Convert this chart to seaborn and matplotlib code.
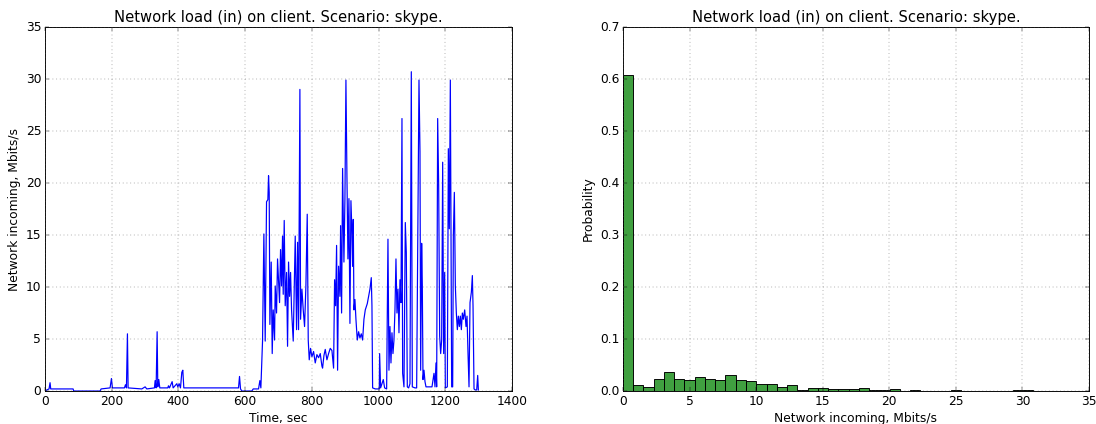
import numpy as np
import pandas as pd
import seaborn as sns
import matplotlib
matplotlib.use("Agg")
import matplotlib.pyplot as plt

# time series (sec, Mbits/s)
time_sec = [0, 5, 12, 15, 17, 40, 84, 86, 165, 168, 195, 199, 202, 238, 241, 244, 247, 249,
            290, 300, 305, 328, 330, 333, 336, 338, 341, 344, 368, 370, 373, 381, 384, 395,
            398, 402, 406, 410, 413, 416, 420, 500, 580, 583, 586, 590, 620, 624, 640, 644,
            647, 652, 656, 660, 664, 668, 670, 672, 674, 678, 681, 684, 688, 690, 694, 697,
            700, 703, 706, 709, 712, 714, 717, 720, 724, 727, 730, 733, 736, 739, 744, 747,
            750, 754, 757, 760, 764, 766, 770, 774, 778, 782, 786, 789, 792, 796, 800, 805,
            810, 815, 820, 825, 830, 832, 836, 840, 845, 850, 855, 860, 865, 868, 871, 874,
            877, 880, 884, 886, 889, 892, 896, 899, 902, 905, 908, 911, 914, 917, 920, 922,
            924, 926, 929, 932, 936, 940, 944, 948, 952, 956, 960, 966, 970, 974, 978, 980,
            982, 990, 1002, 1003, 1006, 1014, 1018, 1024, 1028, 1031, 1034, 1037, 1040, 1043,
            1046, 1049, 1052, 1055, 1058, 1061, 1064, 1067, 1070, 1072, 1076, 1080, 1083, 1086,
            1090, 1094, 1098, 1101, 1109, 1114, 1121, 1124, 1126, 1129, 1131, 1133, 1136, 1139,
            1142, 1150, 1160, 1166, 1169, 1172, 1174, 1177, 1180, 1183, 1186, 1189, 1192, 1195,
            1198, 1200, 1206, 1209, 1212, 1215, 1217, 1219, 1222, 1224, 1227, 1230, 1233, 1236,
            1239, 1242, 1245, 1248, 1251, 1254, 1258, 1262, 1265, 1268, 1271, 1274, 1278, 1281,
            1283, 1286, 1290, 1294, 1297, 1299]
load_in = [0.0, 0.1, 0.2, 0.8, 0.2, 0.2, 0.2, 0.0, 0.0, 0.2, 0.3, 1.2, 0.3, 0.3, 0.6, 0.3, 5.5, 0.3,
           0.2, 0.4, 0.2, 0.3, 1.0, 0.3, 5.7, 0.4, 1.1, 0.3, 0.3, 0.5, 0.3, 0.9, 0.3, 0.7,
           0.4, 0.7, 0.3, 1.8, 2.0, 0.3, 0.3, 0.3, 0.3, 1.4, 0.2, 0.0, 0.0, 0.2, 0.2, 1.0,
           0.3, 4.8, 15.1, 4.8, 18.2, 18.4, 20.7, 19.1, 6.4, 12.4, 3.6, 7.8, 4.9, 10.1, 7.5, 12.7,
           10.7, 8.5, 13.6, 10.1, 14.9, 9.3, 16.4, 8.2, 11.4, 4.3, 12.4, 9.1, 11.4, 7.8, 4.8, 10.1,
           14.9, 5.9, 14.3, 5.9, 29.0, 6.9, 9.8, 7.8, 6.2, 10.1, 17.0, 4.9, 3.0, 4.1, 3.3, 3.8,
           2.7, 3.5, 3.2, 3.6, 2.4, 2.2, 3.4, 4.0, 3.0, 3.6, 4.1, 3.9, 2.2, 10.7, 8.2, 14.0,
           2.0, 12.0, 9.1, 15.9, 7.5, 21.4, 12.4, 18.5, 29.9, 20.7, 12.7, 18.5, 6.5, 18.3, 15.3, 12.0,
           16.5, 7.8, 8.8, 6.9, 4.9, 5.7, 5.1, 5.5, 4.9, 6.9, 7.8, 8.4, 9.1, 9.8, 10.9, 8.2,
           0.3, 0.2, 0.2, 3.6, 0.3, 1.1, 0.3, 0.2, 14.6, 2.0, 6.2, 2.7, 5.6, 3.6,
           4.9, 7.8, 12.7, 7.5, 9.8, 5.6, 10.7, 8.5, 26.2, 1.7, 0.4, 16.2, 13.3, 0.4,
           0.3, 0.7, 30.7, 0.4, 0.3, 0.3, 29.9, 23.0, 2.0, 14.2, 10.1, 1.1, 2.0, 0.9,
           0.4, 0.4, 0.4, 1.7, 0.4, 2.7, 0.4, 26.2, 19.8, 5.3, 3.6, 4.9, 22.0, 3.6,
           11.4, 0.3, 0.4, 23.3, 15.6, 29.9, 15.6, 0.4, 0.4, 14.9, 19.1, 10.1, 7.5, 5.9,
           7.2, 6.2, 7.2, 5.9, 7.5, 6.9, 7.8, 6.2, 7.2, 3.6, 0.4, 8.5, 9.5, 11.1,
           8.2, 0.2, 0.1, 0.1, 1.5, 0.1]

# histogram probabilities (40 bins between 0 and max load)
hist_max = 30.8
hist_prob = [0.608, 0.0115, 0.008, 0.023, 0.037, 0.023, 0.021, 0.027, 0.023, 0.021,
             0.030, 0.021, 0.020, 0.013, 0.013, 0.007, 0.011, 0.002, 0.006, 0.006,
             0.0045, 0.003, 0.003, 0.006, 0.002, 0.0015, 0.003, 0.0007, 0.0013, 0.0005,
             0.0007, 0.0, 0.001, 0.0006, 0.0, 0.0005, 0.0005, 0.0006, 0.0013, 0.0013]

title = "Network load (in) on client. Scenario: skype."

plt.style.use("classic")
plt.rcParams["font.size"] = 13.3
plt.rcParams["grid.color"] = "0.35"
fig = plt.figure(figsize=(16.44, 6.36), dpi=200 / 3, facecolor="white")
ax1 = fig.add_axes([0.0411, 0.0778, 0.4261, 0.8585])
ax2 = fig.add_axes([0.5684, 0.0778, 0.4252, 0.8585])

# left: load over time
sns.lineplot(x=time_sec, y=load_in, ax=ax1, color="b", lw=1.3, sort=False)
ax1.set_xlim(0, 1400)
ax1.set_ylim(0, 35)
ax1.set_title(title)
ax1.set_xlabel("Time, sec")
ax1.set_ylabel("Network incoming, Mbits/s")
ax1.grid(True)

# right: distribution
edges = np.linspace(0, hist_max, len(hist_prob) + 1)
hist_df = pd.DataFrame({"load": (edges[:-1] + edges[1:]) / 2, "prob": hist_prob})
sns.histplot(data=hist_df, x="load", weights="prob", bins=edges.tolist(), ax=ax2,
             color="g", alpha=0.75, edgecolor="k", linewidth=1.0)
ax2.set_xlim(0, 35)
ax2.set_ylim(0, 0.7)
ax2.set_title(title)
ax2.set_xlabel("Network incoming, Mbits/s")
ax2.set_ylabel("Probability")
ax2.grid(True)

fig.savefig("out.png", dpi=200 / 3, facecolor="white")
